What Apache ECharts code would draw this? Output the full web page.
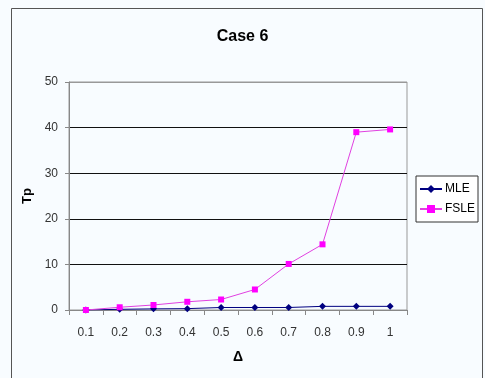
<!DOCTYPE html>
<html><head><meta charset="utf-8">
<script src="https://cdn.jsdelivr.net/npm/echarts@6/dist/echarts.min.js"></script>
<style>html,body{margin:0;padding:0;background:#fff}#c{width:485px;height:378px}</style>
</head><body><div id="c"></div>
<script>
var categories = ['0.1','0.2','0.3','0.4','0.5','0.6','0.7','0.8','0.9','1'];
var mleValues = [0, 0.15, 0.25, 0.3, 0.55, 0.55, 0.55, 0.8, 0.8, 0.8];
var fsleValues = [0, 0.6, 1.1, 1.8, 2.3, 4.5, 10.1, 14.4, 39.0, 39.6];
var chart = echarts.init(document.getElementById('c'));
var font = 'Liberation Sans, Arial, sans-serif';
chart.setOption({
  backgroundColor: '#F8FCFF',
  animation: false,
  graphic: [{type:'rect', shape:{x:11.5,y:8.5,width:471,height:380}, style:{fill:'none', stroke:'#555', lineWidth:1}, silent:true}],
  title: {text:'Case 6', left:'center', top:24, textStyle:{fontFamily:font, fontSize:16, fontWeight:'bold', color:'#000'}},
  grid: {left:69, right:78, top:82, bottom:68, show:true, borderColor:'#999', borderWidth:1, backgroundColor:'transparent'},
  legend: {
    orient:'vertical', left:416, top:176, padding:[7,3,7,3], itemGap:8, itemWidth:22, itemHeight:10,
    borderColor:'#333', borderWidth:1, backgroundColor:'#fff',
    textStyle:{fontFamily:font, fontSize:12, color:'#000', padding:[0,0,0,-2]},
    data:['MLE','FSLE']
  },
  xAxis: {
    type:'category', data:categories, boundaryGap:true,
    name:'Δ', nameLocation:'middle', nameGap:40,
    nameTextStyle:{fontFamily:font, fontSize:14, fontWeight:'bold', color:'#000'},
    axisLine:{lineStyle:{color:'#888'}},
    axisTick:{show:true, alignWithLabel:false, length:5, lineStyle:{color:'#888'}},
    axisLabel:{fontFamily:font, fontSize:12, color:'#333', margin:17}
  },
  yAxis: {
    type:'value', min:0, max:50, interval:10,
    name:'Tp', nameLocation:'middle', nameGap:34,
    nameTextStyle:{fontFamily:font, fontSize:13, fontWeight:'bold', color:'#000'},
    axisLine:{show:true, lineStyle:{color:'#888'}},
    axisTick:{show:true, length:4, lineStyle:{color:'#888'}},
    axisLabel:{fontFamily:font, fontSize:12, color:'#333', margin:11},
    splitLine:{show:true, lineStyle:{color:['#888','#111','#111','#111','#111','#999'], width:1}}
  },
  series: [
    {name:'MLE', type:'line', data:mleValues, symbol:'diamond', symbolSize:7,
     itemStyle:{color:'#000080'}, lineStyle:{color:'#000080', width:1}},
    {name:'FSLE', type:'line', data:fsleValues, symbol:'rect', symbolSize:6,
     itemStyle:{color:'#FF00FF'}, lineStyle:{color:'#E040E0', width:1}}
  ]
});
</script></body></html>
